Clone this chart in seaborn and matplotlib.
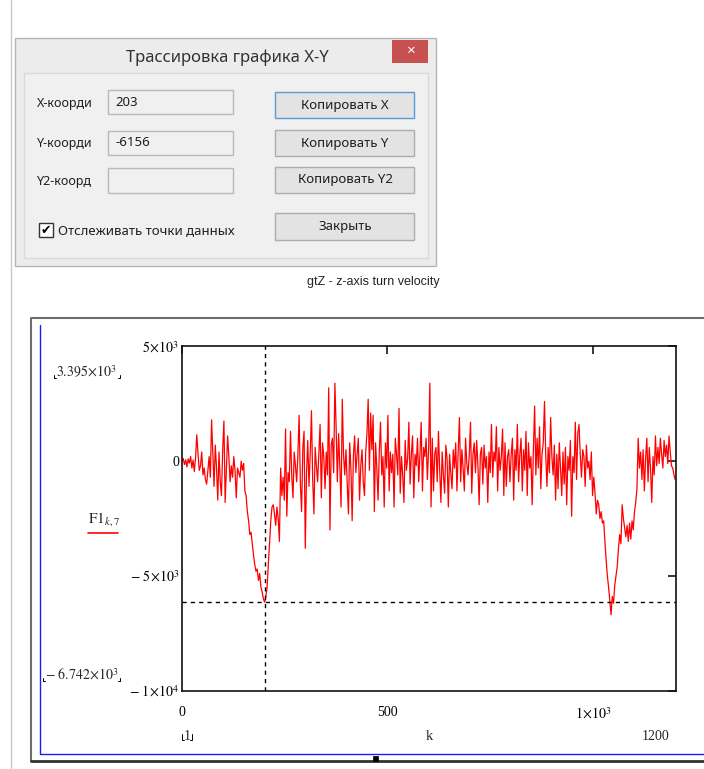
import matplotlib
matplotlib.use("Agg")
import matplotlib.pyplot as plt
from matplotlib.patches import Rectangle
import numpy as np
import pandas as pd
import seaborn as sns

# ---------------- data ----------------
k_values = list(range(0, 1201, 3))
f1_values = [
    0, 120, -150, 60, -250, 100, -80, 200, -300, 50,
    -450, 150, 1150, 300, -400, -200, 400, -600, -300, -800,
    -1000, -400, 200, -700, 1800, 300, -1100, 700, -300, -1700,
    400, -900, -1500, 500, 1750, -1800, -400, 1100, 200, -900,
    -200, -700, 200, -400, -1600, -300, -500, -700, 0, -400,
    -100, -1300, -1500, -2200, -2600, -3200, -3100, -3600, -4100, -4500,
    -4800, -4700, -5200, -4900, -5500, -5700, -6000, -6150, -5900, -5500,
    -4500, -3600, -2600, -2000, -1900, -2300, -2800, -2000, -2500, -3500,
    -300, -1500, -700, -1700, 1400, -2400, -500, -900, 1300, -600,
    -1600, 400, -200, -900, 300, 2000, -1000, -2200, 600, 1300,
    -3800, -500, 900, -1100, 300, 2200, -800, -2300, 600, -200,
    -900, 400, 1600, -1600, 800, 200, -1200, 400, -600, 3200,
    -3000, 700, 1000, -500, 3400, 1500, -900, 1200, -200, -2000,
    2700, 300, -600, 500, -1000, -2300, 800, -300, -2600, 200,
    1100, -500, 300, 1000, -1700, -200, 500, -900, -1500, 400,
    1200, 2700, -400, 2100, 500, 2000, -2200, 800, -300, -1700,
    400, 1700, -600, 200, -2000, 800, -300, 2000, -1300, 400,
    -500, 300, -2000, 1000, 300, -600, 2300, -1400, 200, -600,
    -1800, 900, -400, 100, 1700, -1000, 300, 1100, -1600, 300,
    -200, 1000, -900, 300, 1700, -1300, 600, 200, 1000, -800,
    500, 3400, -2000, 1000, -1300, 300, 600, -900, 1300, -400,
    -1800, 400, -600, -1400, 700, 100, -2000, 300, -500, -1200,
    500, -300, 800, -1300, 400, 1900, -900, 500, -300, -1300,
    1000, -100, -600, 300, 1700, -1400, 300, 800, -500, 900,
    -200, -1900, 300, 600, -1000, 700, -300, 200, -1800, 400,
    -500, 1600, -700, 400, 0, 1500, -1300, 600, -400, 200,
    1400, -1500, 800, -1100, 200, 500, -900, 300, 1000, -1700,
    500, -400, 1600, -900, 300, 1000, -1300, 500, -400, 1300,
    -1500, 800, -300, 200, -1900, 500, 2400, -600, 1000, -300,
    1500, -1200, 300, 800, 2600, 300, -1100, 600, -500, 1900,
    200, -600, 700, -1700, 300, -1200, 800, -300, -1500, 400,
    -1000, 600, -1900, 200, -400, 900, -2400, 200, -500, 1700,
    -800, 1200, 1600, 300, -700, 500, 200, -1100, 700, -300,
    0, -800, 400, -1500, -700, -1400, -2300, -1700, -1900, -2500,
    -2200, -2700, -2600, -3500, -4300, -5000, -5500, -6100, -6700, -5900,
    -6200, -5400, -5000, -4600, -3800, -3200, -3600, -1900, -2500, -2900,
    -3300, -2800, -3500, -2700, -3400, -2600, -3000, -2200, -1800, -1200,
    1000, -300, 400, -800, 500, -1300, 100, 1000, -900, 600,
    -300, -1800, 200, -600, 1100, -200, 600, -100, 1000, 300,
    -300, 900, 200, 700, -100, 1100, 400, -200, -300, -600,
    -800,
]
x_ticks = [0, 500, 1000]
x_tick_labels = ["0", "500", r"$1\!\times\!10^{3}$"]
y_ticks = [5000, 0, -5000, -10000]
y_tick_labels = [r"$5\!\times\!10^{3}$", "0", r"$-\ 5\!\times\!10^{3}$", r"$-\ 1\!\times\!10^{4}$"]
trace_x = 203
trace_y = -6156
y_top_text = r"$3.395\!\times\!10^{3}$"
y_bot_text = r"$-\ 6.742\!\times\!10^{3}$"

df = pd.DataFrame({"k": k_values, "F1": f1_values})

# ---------------- style ----------------
sns.set_style("white")
plt.rcParams["font.family"] = ["Liberation Serif", "DejaVu Serif"]
plt.rcParams["mathtext.fontset"] = "stix"

W, H = 704, 769
fig = plt.figure(figsize=(W / 100, H / 100), dpi=100)
fig.patch.set_facecolor("white")

bg = fig.add_axes([0, 0, 1, 1])
bg.set_xlim(0, W)
bg.set_ylim(H, 0)
bg.axis("off")

UI = ["Noto Sans", "DejaVu Sans"]

def rect(x0, y0, x1, y1, fc, ec, lw=1.0, z=1):
    bg.add_patch(Rectangle((x0, y0), x1 - x0, y1 - y0, facecolor=fc,
                           edgecolor=ec, linewidth=lw, zorder=z))

# page margin line
bg.plot([11, 11], [0, H], color="#c8c8c8", lw=1, zorder=1)

# ---------------- dialog ----------------
rect(15, 38, 436, 266, "#ececec", "#b4b4b4", 1.0, 2)
rect(392, 40, 428, 63, "#c75050", "none", 0, 3)
bg.text(410, 51, "×", color="white", fontsize=11, ha="center", va="center",
        family=UI, fontweight="bold", zorder=4)
bg.text(227, 58, "Трассировка графика X-Y", color="#333333", fontsize=12,
        ha="center", va="center", family=UI, zorder=4)
rect(24, 73, 428, 258, "#f0f0f0", "#d9d9d9", 1.0, 3)

labels = ["X-коорди", "Y-коорди", "Y2-коорд"]
label_y = [103, 143, 181]
box_y = [(90, 114), (131, 155), (168, 193)]
vals = ["203", "-6156", ""]
for lab, ly, (b0, b1), v in zip(labels, label_y, box_y, vals):
    bg.text(37, ly, lab, fontsize=9, ha="left", va="center", family=UI,
            color="#1e1e1e", zorder=4)
    rect(108, b0, 233, b1, "#f0f0f0", "#b9b9b9", 1.0, 4)
    bg.text(115, (b0 + b1) / 2, v, fontsize=9.5, ha="left", va="center",
            family=UI, color="#1e1e1e", zorder=5)

buttons = ["Копировать X", "Копировать Y", "Копировать Y2", "Закрыть"]
btn_y = [(92, 118), (130, 156), (167, 193), (213, 240)]
for i, (b, (b0, b1)) in enumerate(zip(buttons, btn_y)):
    ec = "#5a9ad6" if i == 0 else "#adadad"
    rect(275, b0, 414, b1, "#e3e3e3", ec, 1.0, 4)
    bg.text(345, (b0 + b1) / 2, b, fontsize=9.5, ha="center", va="center",
            family=UI, color="#1e1e1e", zorder=5)

rect(39, 223, 53, 237, "white", "#333333", 1.0, 4)
bg.text(46, 230.5, "✔", fontsize=9, ha="center", va="center",
        family=["DejaVu Sans"], color="black", zorder=5)
bg.text(58, 231, "Отслеживать точки данных", fontsize=9.5, ha="left",
        va="center", family=UI, color="#1e1e1e", zorder=5)

# caption
bg.text(373, 282, "gtZ - z-axis turn velocity", fontsize=9, ha="center",
        va="center", family=["Liberation Sans", "DejaVu Sans"], color="#222222")

# ---------------- Mathcad region frame ----------------
bg.plot([31, 31, 710], [761, 318, 318], color="#6e6e6e", lw=1.5, zorder=1)
bg.plot([31, 710], [761, 761], color="#333333", lw=2, zorder=1)
bg.plot([40, 40, 710], [325, 754, 754], color="#1a1aff", lw=1, zorder=1)
rect(373, 756, 378, 761, "black", "black", 0.5, 2)

# y range limits and label
bg.text(56, 372, y_top_text, fontsize=10, ha="left", va="center", zorder=3)
bg.text(45, 675, y_bot_text, fontsize=10, ha="left", va="center", zorder=3)
for (xa, xb, yy) in [(54, 120, 378), (43, 120, 681)]:
    bg.plot([xa, xa, xa + 2], [yy - 3, yy, yy], color="black", lw=0.7)
    bg.plot([xb - 2, xb, xb], [yy, yy, yy - 3], color="black", lw=0.7)
bg.text(88, 519, r"$\mathrm{F1}_{k,7}$", fontsize=11, ha="left", va="center",
        zorder=3)
bg.plot([88, 118], [533, 533], color="red", lw=1.2)

# x range limits and label
bg.text(187, 737, "1", fontsize=10, ha="center", va="center")
bg.plot([182, 182, 184], [734, 740, 740], color="black", lw=0.7)
bg.plot([190, 192, 192], [740, 740, 734], color="black", lw=0.7)
bg.text(429, 737, "k", fontsize=10.5, ha="center", va="center")
bg.text(669, 737, "1200", fontsize=10, ha="right", va="center")

# ---------------- plot ----------------
ax = fig.add_axes([182 / W, (H - 690.5) / H, (676 - 182) / W, (690.5 - 346.5) / H])
ax.set_facecolor("white")
sns.lineplot(data=df, x="k", y="F1", ax=ax, color="red", linewidth=0.9,
             estimator=None, legend=False)
ax.axvline(trace_x, color="black", lw=1, ls=(0, (3, 3)), zorder=3)
ax.axhline(trace_y, color="black", lw=1, ls=(0, (3, 3)), zorder=3)
ax.set_xlim(0, 1202)
ax.set_ylim(-10000, 5000)
ax.set_xticks(x_ticks)
ax.set_xticklabels(x_tick_labels)
ax.set_yticks(y_ticks)
ax.set_yticklabels(y_tick_labels)
ax.tick_params(direction="in", length=6, width=1.1, top=True, right=True,
               labelsize=10, colors="black")
ax.tick_params(axis="x", pad=11)
ax.tick_params(axis="y", pad=2)
ax.set_xlabel("")
ax.set_ylabel("")
for s in ax.spines.values():
    s.set_color("#111111")
    s.set_linewidth(1.2)
    s.set_visible(True)

fig.savefig("out.png", dpi=100, facecolor="white")
